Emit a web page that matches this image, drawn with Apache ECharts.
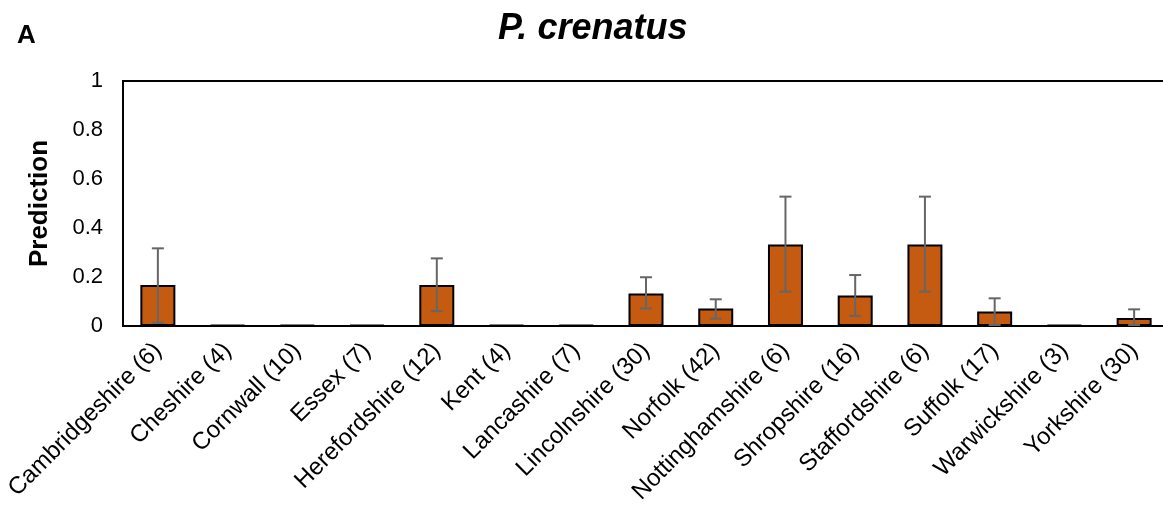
<!DOCTYPE html>
<html>
<head>
<meta charset="utf-8">
<script src="https://cdn.jsdelivr.net/npm/echarts@6/dist/echarts.min.js"></script>
<style>
  html, body { margin: 0; padding: 0; background: #fff; }
  #chart { width: 1163px; height: 506px; }
</style>
</head>
<body>
<div id="chart"></div>
<script>
// Counties, with the number of samples in brackets
const categories = [
  'Cambridgeshire (6)', 'Cheshire (4)', 'Cornwall (10)', 'Essex (7)',
  'Herefordshire (12)', 'Kent (4)', 'Lancashire (7)', 'Lincolnshire (30)',
  'Norfolk (42)', 'Nottinghamshire (6)', 'Shropshire (16)', 'Staffordshire (6)',
  'Suffolk (17)', 'Warwickshire (3)', 'Yorkshire (30)'
];
// Predicted proportion per county
const prediction = [0.167, 0, 0, 0, 0.167, 0, 0, 0.133, 0.071, 0.333, 0.125, 0.333, 0.059, 0, 0.033];
// Lower and upper limits of the error bars
const errLow  = [0.013, null, null, null, 0.061, null, null, 0.072, 0.030, 0.140, 0.041, 0.140, 0.004, null, 0.004];
const errHigh = [0.317, null, null, null, 0.276, null, null, 0.199, 0.109, 0.528, 0.208, 0.528, 0.113, null, 0.068];
const yTicks = [0, 0.2, 0.4, 0.6, 0.8, 1];

const errData = [];
errLow.forEach((lo, i) => { if (lo !== null) errData.push([i, lo, errHigh[i]]); });

const FONT = '"Liberation Sans", Arial, sans-serif';
const chart = echarts.init(document.getElementById('chart'), null, { renderer: 'canvas' });

chart.setOption({
  animation: false,
  backgroundColor: '#fff',
  title: [
    { text: 'P. crenatus', left: 493, top: 6,
      textStyle: { fontFamily: FONT, fontSize: 36, fontWeight: 'bold', fontStyle: 'italic', color: '#000' } },
    { text: 'A', left: 12, top: 18,
      textStyle: { fontFamily: FONT, fontSize: 26, fontWeight: 'bold', color: '#000' } }
  ],
  grid: {
    left: 123, top: 81, width: 1046, bottom: 180,
    outerBoundsMode: 'none',
    containLabel: false,
    show: true, borderColor: '#000', borderWidth: 2, backgroundColor: 'transparent'
  },
  xAxis: {
    type: 'category',
    data: categories,
    axisLine: { show: true, lineStyle: { color: '#000', width: 2 } },
    axisTick: { show: false },
    axisLabel: {
      interval: 0, rotate: 45, margin: 21,
      fontFamily: FONT, fontSize: 24, color: '#000'
    }
  },
  yAxis: {
    type: 'value',
    min: 0, max: 1, interval: 0.2,
    name: 'Prediction',
    nameLocation: 'middle',
    nameGap: 70,
    nameTextStyle: { fontFamily: FONT, fontSize: 26, fontWeight: 'bold', color: '#000' },
    axisLine: { show: true, lineStyle: { color: '#000', width: 2 } },
    axisTick: { show: false },
    splitLine: { show: false },
    axisLabel: {
      margin: 20, fontFamily: FONT, fontSize: 22, color: '#000',
      formatter: v => {
        const t = yTicks.find(x => Math.abs(x - v) < 1e-9);
        return t === undefined ? '' : String(t);
      }
    }
  },
  series: [
    {
      type: 'bar',
      data: prediction,
      barWidth: 35,
      barMinHeight: 1,
      itemStyle: { color: '#C55A11', borderColor: '#000', borderWidth: 2 }
    },
    {
      type: 'custom',
      data: errData,
      z: 10,
      renderItem: (params, api) => {
        const x = api.value(0);
        const lo = api.coord([x, api.value(1)]);
        const hi = api.coord([x, api.value(2)]);
        const cap = 6;
        const style = { stroke: '#666', lineWidth: 2 };
        return {
          type: 'group',
          children: [
            { type: 'line', shape: { x1: lo[0], y1: lo[1], x2: hi[0], y2: hi[1] }, style },
            { type: 'line', shape: { x1: hi[0] - cap, y1: hi[1], x2: hi[0] + cap, y2: hi[1] }, style },
            { type: 'line', shape: { x1: lo[0] - cap, y1: lo[1], x2: lo[0] + cap, y2: lo[1] }, style }
          ]
        };
      }
    }
  ]
});
</script>
</body>
</html>
